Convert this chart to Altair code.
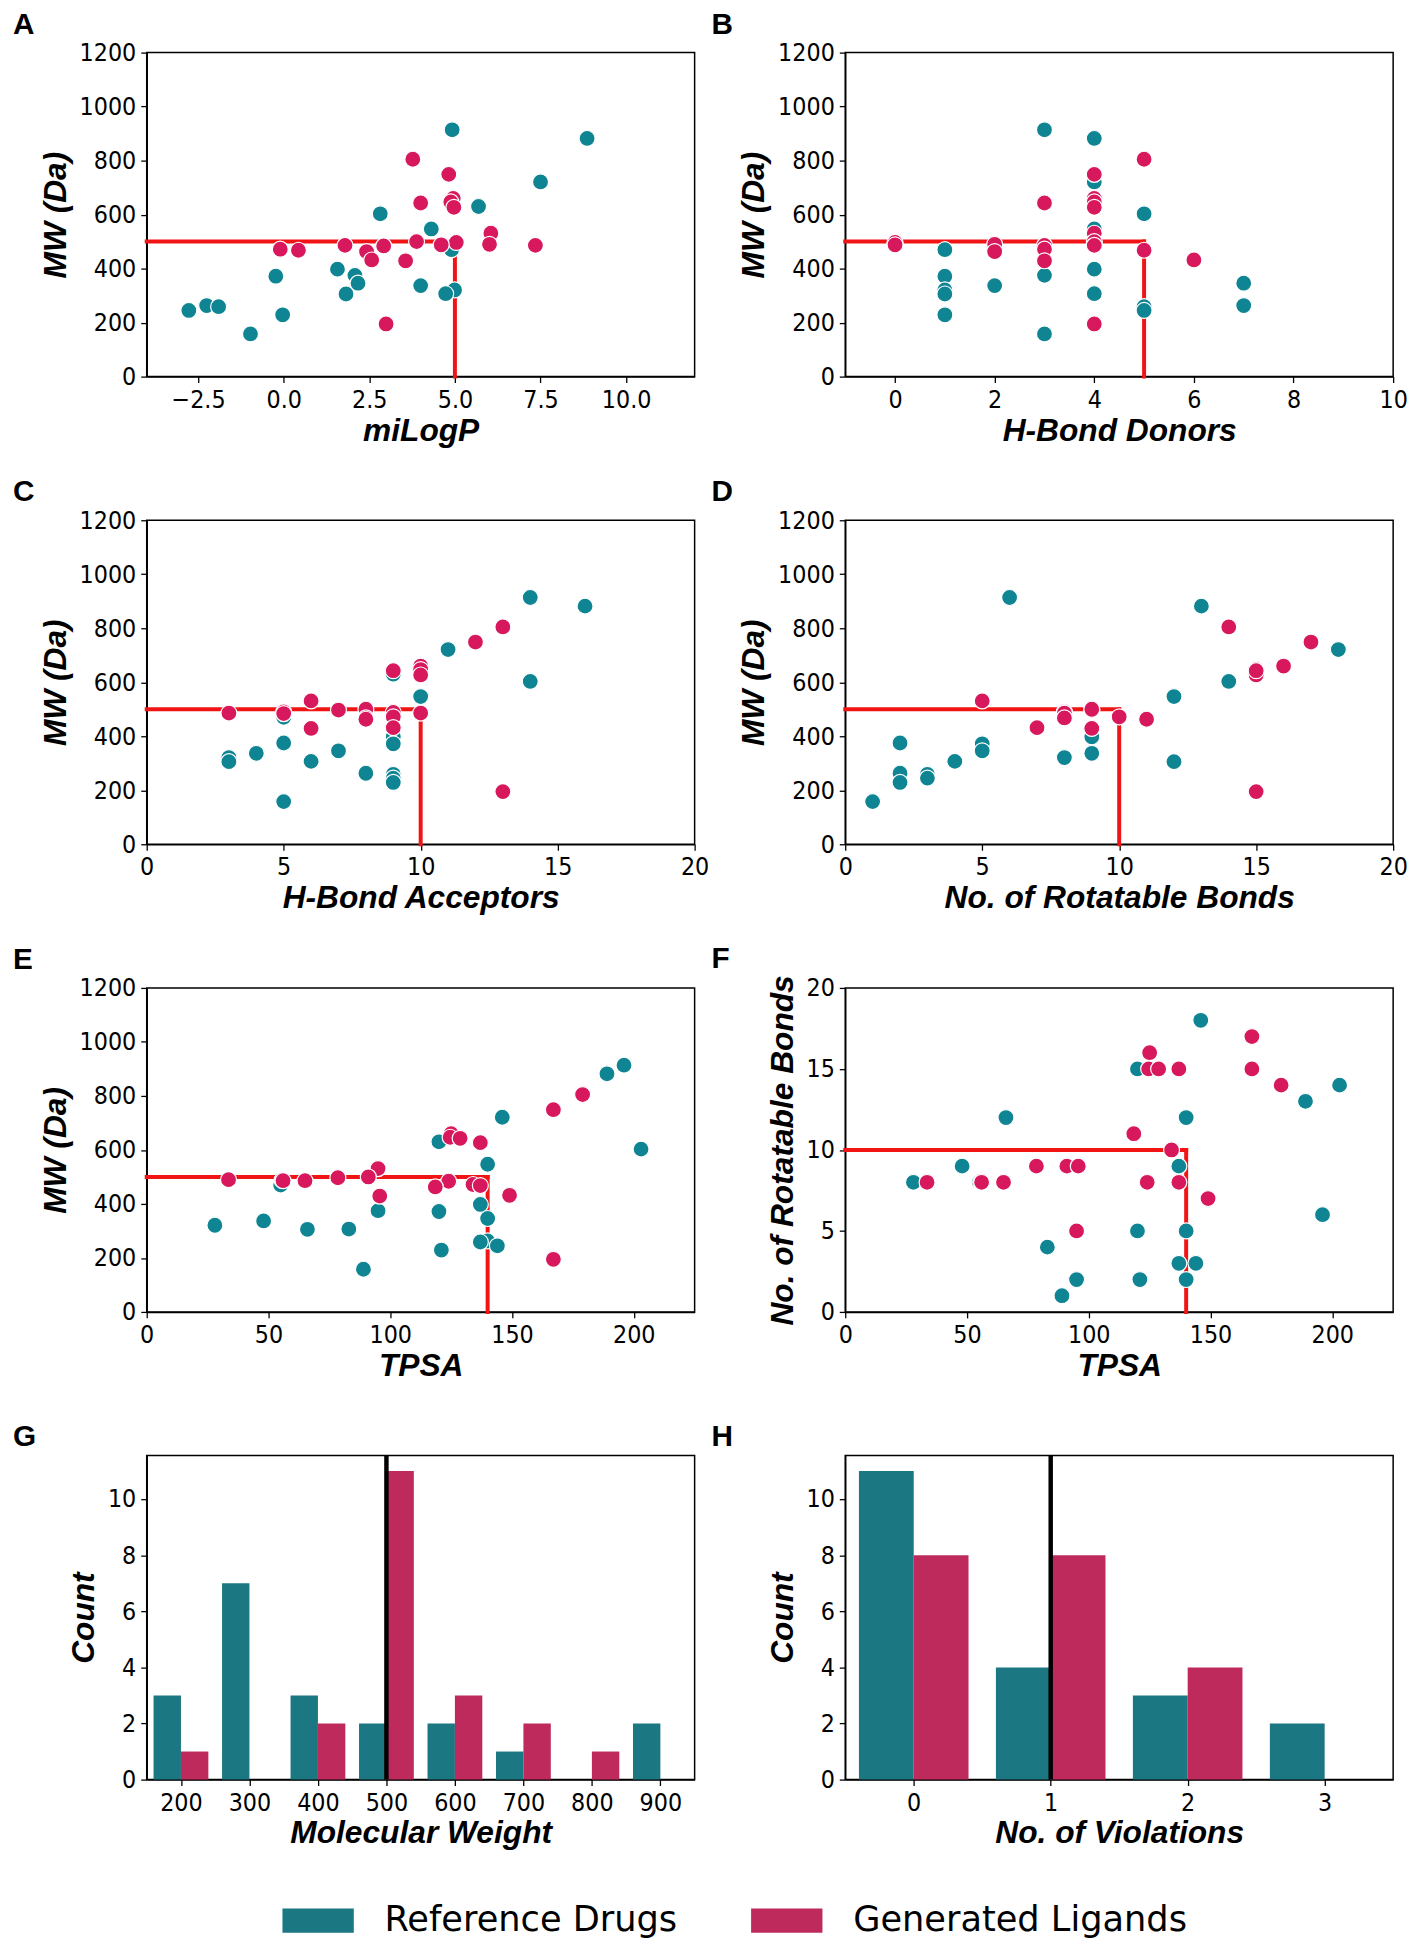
import altair as alt
import pandas as pd

# ---------------- data ----------------
# Reference drugs (one entry per molecule, same order in every list)
ref_mw   = [914, 882, 721, 630, 603, 547, 470, 398, 375, 372, 346, 337, 321, 307, 306, 263, 259, 245, 229, 158]
ref_logp = [4.92, 8.86, 7.5, 5.69, 2.82, 4.31, 4.9, 1.57, 2.08, -0.23, 2.17, 4.0, 4.99, 4.73, 1.82, -2.25, -1.9, -2.77, -0.03, -0.97]
ref_hbd  = [3, 4, 4, 4, 5, 4, 1, 4, 3, 1, 7, 2, 1, 4, 1, 7, 5, 5, 1, 3]
ref_hba  = [14, 16, 11, 9, 14, 10, 5, 9, 5, 9, 7, 4, 3, 6, 3, 8, 9, 9, 9, 5]
ref_rotb = [6, 13, 18, 15, 14, 12, 8, 9, 2, 5, 5, 9, 8, 4, 12, 2, 3, 3, 2, 1]
ref_tpsa = [196, 189, 146, 120, 203, 140, 55, 137, 95, 120, 140, 48, 28, 83, 66, 140, 137, 144, 121, 89]

# Generated ligands
gen_mw   = [805, 749, 660, 647, 627, 643, 531, 490, 486, 497, 488, 500, 484, 486, 472, 468, 463, 432, 429, 195]
gen_logp = [3.77, 4.82, 4.95, 4.88, 4.97, 4.0, 6.05, 6.01, 7.35, 5.04, 4.6, 3.88, 2.92, 1.79, -0.1, 0.43, 2.42, 2.57, 3.56, 2.99]
gen_hbd  = [5, 4, 4, 4, 4, 3, 4, 2, 3, 0, 0, 4, 4, 4, 3, 5, 2, 6, 3, 4]
gen_hba  = [13, 12, 10, 10, 10, 9, 6, 5, 10, 7, 9, 8, 5, 3, 9, 8, 8, 9, 6, 13]
gen_rotb = [14, 17, 16, 15, 15, 15, 5, 8, 8, 9, 8, 9, 8, 8, 10, 8, 11, 7, 9, 15]
gen_tpsa = [179, 167, 125, 124.6, 137, 128.7, 95, 33.6, 65, 78.5, 55.6, 91, 124, 56, 134, 137, 118.5, 149, 95.7, 167]

# Histograms
mw_bins        = [200, 300, 400, 500, 600, 700, 800, 900]
ref_mw_counts  = [3, 7, 3, 2, 2, 1, 0, 2]
gen_mw_counts  = [1, 0, 2, 11, 3, 2, 1, 0]
viol_bins        = [0, 1, 2, 3]
ref_viol_counts  = [11, 4, 3, 2]
gen_viol_counts  = [8, 8, 4, 0]

groups = ["Reference Drugs", "Generated Ligands"]

# Rule-of-five limits
LIM_MW, LIM_LOGP, LIM_HBD, LIM_HBA, LIM_ROTB, LIM_TPSA = 500, 5, 5, 10, 10, 140
LIM_VIOL = 1

# ---------------- styles ----------------
TEAL, CRIMSON = "#0f8593", "#d8185c"
TEAL_BAR, CRIMSON_BAR = "#1b7782", "#be2a5c"
LIMIT_RED = "#f01414"
W, H = 553, 327
TICK_FONT = "DejaVu Sans Condensed, DejaVu Sans"


def letter_title(letter):
    return alt.TitleParams(text=letter, anchor="start", frame="group", dx=-135, offset=1,
                           font="Liberation Sans", fontSize=30, fontWeight="bold", color="black")


def scatter_panel(letter, xr, yr, xg, yg, xdom, xticks, xfmt, xtitle,
                  ydom, yticks, ytitle, xlim, ylim):
    ref = pd.DataFrame({"x": xr, "y": yr})
    gen = pd.DataFrame({"x": xg, "y": yg})
    lim = pd.DataFrame({"x0": [xdom[0]], "xl": [xlim], "y0": [ydom[0]], "yl": [ylim]})
    xs = alt.Scale(domain=xdom, nice=False, zero=False)
    ys = alt.Scale(domain=ydom, nice=False, zero=False)
    xax = alt.Axis(values=xticks, format=xfmt, title=xtitle)
    yax = alt.Axis(values=yticks, format="d", title=ytitle)

    def pts(df, col):
        return alt.Chart(df).mark_circle(size=260, color=col, opacity=1, stroke="white",
                                         strokeWidth=1.2).encode(
            x=alt.X("x:Q", scale=xs, axis=xax, title=xtitle),
            y=alt.Y("y:Q", scale=ys, axis=yax, title=ytitle))

    hline = alt.Chart(lim).mark_rule(color=LIMIT_RED, strokeWidth=4, strokeCap="square").encode(
        x=alt.X("x0:Q", scale=xs, axis=xax, title=xtitle), x2="xl:Q",
        y=alt.Y("yl:Q", scale=ys, axis=yax, title=ytitle))
    vline = alt.Chart(lim).mark_rule(color=LIMIT_RED, strokeWidth=4, strokeCap="square").encode(
        x=alt.X("xl:Q", scale=xs, axis=xax, title=xtitle),
        y=alt.Y("y0:Q", scale=ys, axis=yax, title=ytitle), y2="yl:Q")

    return alt.layer(hline, vline, pts(ref, TEAL), pts(gen, CRIMSON)).properties(
        width=W, height=H, title=letter_title(letter))


legend = alt.Legend(title=None, orient="none", legendX=137, legendY=1849, direction="horizontal",
                    symbolType="M-1,-0.34H1V0.34H-1Z", symbolSize=5184, symbolStrokeWidth=0,
                    symbolOpacity=1, labelFont="DejaVu Sans", labelFontSize=35.5, labelColor="black",
                    labelOffset=31, labelLimit=600, columnPadding=74, padding=0)


def hist_panel(letter, bins, rc, gc, half, xdom, xticks, xtitle, line_x):
    n = len(bins)
    df = pd.DataFrame({"center": bins + bins, "count": rc + gc,
                       "group": [groups[0]] * n + [groups[1]] * n})
    xs = alt.Scale(domain=xdom, nice=False, zero=False)
    ys = alt.Scale(domain=[0, 11.55], nice=False)
    xax = alt.Axis(values=xticks, format="d", title=xtitle)
    yax = alt.Axis(values=[0, 2, 4, 6, 8, 10], format="d", title="Count")
    bars = alt.Chart(df).transform_calculate(
        x0=f"datum.group == '{groups[0]}' ? datum.center - {half} : datum.center",
        x1=f"datum.group == '{groups[0]}' ? datum.center : datum.center + {half}",
    ).mark_bar(opacity=1, strokeWidth=0).encode(
        x=alt.X("x0:Q", scale=xs, axis=xax, title=xtitle), x2="x1:Q",
        y=alt.Y("count:Q", scale=ys, axis=yax, title="Count"), y2=alt.datum(0),
        color=alt.Color("group:N", scale=alt.Scale(domain=groups, range=[TEAL_BAR, CRIMSON_BAR]),
                        legend=legend))
    rule = alt.Chart(pd.DataFrame({"x": [line_x]})).mark_rule(color="black", strokeWidth=4.5).encode(
        x=alt.X("x:Q", scale=xs, axis=xax, title=xtitle))
    return alt.layer(bars, rule).properties(width=W, height=H, title=letter_title(letter))


mw_ticks = [0, 200, 400, 600, 800, 1000, 1200]

pA = scatter_panel("A", ref_logp, ref_mw, gen_logp, gen_mw, [-4, 12], [-2.5, 0, 2.5, 5, 7.5, 10], ".1f",
                   "miLogP", [0, 1200], mw_ticks, "MW (Da)", LIM_LOGP, LIM_MW)
pB = scatter_panel("B", ref_hbd, ref_mw, gen_hbd, gen_mw, [-1, 10], [0, 2, 4, 6, 8, 10], "d",
                   "H-Bond Donors", [0, 1200], mw_ticks, "MW (Da)", LIM_HBD, LIM_MW)
pC = scatter_panel("C", ref_hba, ref_mw, gen_hba, gen_mw, [0, 20], [0, 5, 10, 15, 20], "d",
                   "H-Bond Acceptors", [0, 1200], mw_ticks, "MW (Da)", LIM_HBA, LIM_MW)
pD = scatter_panel("D", ref_rotb, ref_mw, gen_rotb, gen_mw, [0, 20], [0, 5, 10, 15, 20], "d",
                   "No. of Rotatable Bonds", [0, 1200], mw_ticks, "MW (Da)", LIM_ROTB, LIM_MW)
pE = scatter_panel("E", ref_tpsa, ref_mw, gen_tpsa, gen_mw, [0, 225], [0, 50, 100, 150, 200], "d",
                   "TPSA", [0, 1200], mw_ticks, "MW (Da)", LIM_TPSA, LIM_MW)
pF = scatter_panel("F", ref_tpsa, ref_rotb, gen_tpsa, gen_rotb, [0, 225], [0, 50, 100, 150, 200], "d",
                   "TPSA", [0, 20], [0, 5, 10, 15, 20], "No. of Rotatable Bonds", LIM_TPSA, LIM_ROTB)
pG = hist_panel("G", mw_bins, ref_mw_counts, gen_mw_counts, 40, [150, 950], mw_bins,
                "Molecular Weight", LIM_MW)
pH = hist_panel("H", viol_bins, ref_viol_counts, gen_viol_counts, 0.4, [-0.5, 3.5], viol_bins,
                "No. of Violations", LIM_VIOL)

chart = alt.concat(pA, pB, pC, pD, pE, pF, pG, pH, columns=2,
                   spacing=alt.RowColnumber(row=145, column=152), bounds="flush").properties(
    padding={"left": 4, "top": -8, "right": 0, "bottom": 5}, background="white"
).configure_axis(
    labelFont=TICK_FONT, labelFontSize=25, labelColor="black", labelPadding=5,
    labelFlush=False, labelOverlap=False, labelBound=False,
    titleFont="Liberation Sans", titleFontSize=32, titleFontWeight="bold", titleFontStyle="italic",
    titleColor="black",
    tickColor="black", tickSize=6, tickWidth=1.3, domainColor="black", domainWidth=1.5, grid=False
).configure_axisX(titlePadding=3).configure_axisY(titlePadding=7
).configure_view(stroke="black", strokeWidth=1.5)

chart.save("out.html", embed_options={"renderer": "svg", "actions": False})
